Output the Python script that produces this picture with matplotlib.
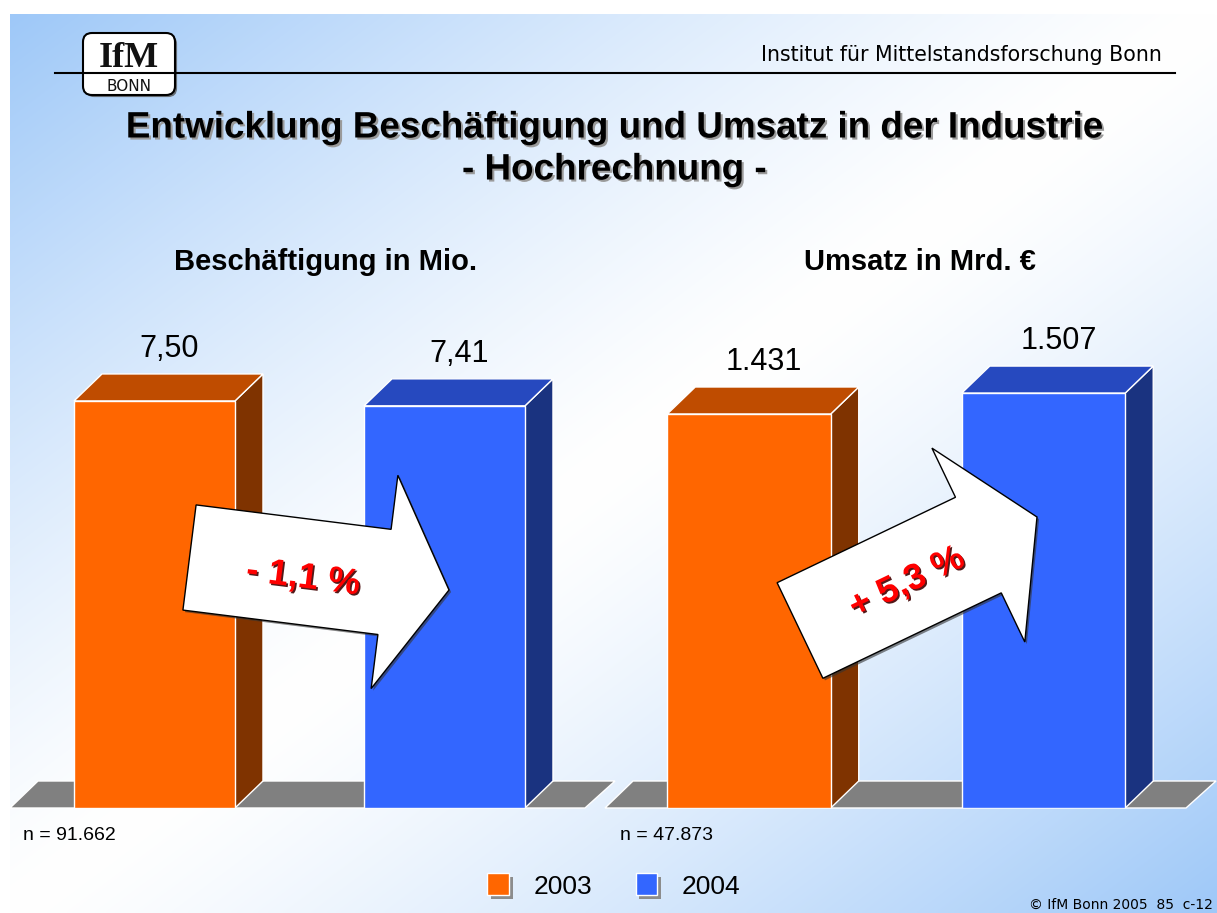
import numpy as np
import matplotlib.pyplot as plt
import matplotlib.patheffects as pe
from matplotlib.patches import Polygon, Rectangle, FancyArrow, FancyBboxPatch
from matplotlib.legend_handler import HandlerBase

# data
years = ['2003', '2004']
employment = [7.50, 7.41]      # Beschäftigung in Mio.
revenue = [1431, 1507]         # Umsatz in Mrd. €
employment_labels = ['7,50', '7,41']
revenue_labels = ['1.431', '1.507']
sample_sizes = ['n = 91.662', 'n = 47.873']
changes = ['- 1,1 %', '+ 5,3 %']
panel_titles = ['Beschäftigung in Mio.', 'Umsatz in Mrd. €']

front = ['#FF6600', '#3366FF']
side = ['#7F3300', '#1A3380']
top = ['#BF4C00', '#2649BF']

W, H = 1217, 913
fig = plt.figure(figsize=(W / 100, H / 100), dpi=100, facecolor='white')


def px_axes(x0, y0, x1, y1, **kw):
    return fig.add_axes([x0 / W, 1 - y1 / H, (x1 - x0) / W, (y1 - y0) / H], **kw)


# background gradient (blue corners, white diagonal)
bg = px_axes(0, 0, W, H, zorder=-2)
xx, yy = np.meshgrid(np.linspace(0, 1, 400), np.linspace(0, 1, 300))
k = np.abs((xx + yy) / 2 - 0.5) * 2
k = k ** 1.3
blue = np.array([158, 200, 248]) / 255
img = 1 - k[..., None] * (1 - blue)
bg.imshow(img, extent=(10, W, H, 14), aspect='auto', interpolation='bilinear')
bg.set_xlim(0, W)
bg.set_ylim(H, 0)
bg.axis('off')

# header line + logo
bg.plot([55, 1175], [73, 73], color='black', lw=1.5)
bg.add_patch(FancyBboxPatch((83, 33), 92, 62, boxstyle='round,pad=0,rounding_size=9',
                            fc='white', ec='black', lw=1.5,
                            path_effects=[pe.withSimplePatchShadow(offset=(1.5, -1.5), shadow_rgbFace='#555555', alpha=0.8)]))
bg.text(129, 67, 'IfM', ha='center', va='baseline', fontsize=26, fontweight='bold',
        family='Liberation Serif', color='#111111')
bg.text(129, 91, 'BONN', ha='center', va='baseline', fontsize=11, family='DejaVu Sans', color='#111111')


def draw_panel(x0, x1, values, labels, ytop, c0, spacing):
    ax = px_axes(x0, 300, x1, 808)
    xl = -(c0 - x0) / spacing
    ax.set_xlim(xl, xl + (x1 - x0) / spacing)
    ax.set_ylim(0, ytop)
    ax.axis('off')
    ddx = 28 / spacing
    ddy = 27 * ytop / 508
    fw = x1 - x0
    ax.add_patch(Polygon([(0, 0), ((fw - 30) / fw, 0), (1, 27 / 508), (28 / fw, 27 / 508)],
                         transform=ax.transAxes, fc='#808080', ec='white', lw=1,
                         clip_on=False, zorder=1))
    bars = ax.bar(np.arange(len(values)), values, width=0.555, color=front,
                  edgecolor='white', linewidth=1, zorder=3, label=years)
    for rect, sc, tc, lbl in zip(bars.patches, side, top, labels):
        bx, bw, bh = rect.get_x(), rect.get_width(), rect.get_height()
        ax.add_patch(Polygon([(bx + bw, 0), (bx + bw, bh), (bx + bw + ddx, bh + ddy), (bx + bw + ddx, ddy)],
                             fc=sc, ec='white', lw=1, zorder=2, clip_on=False))
        ax.add_patch(Polygon([(bx, bh), (bx + bw, bh), (bx + bw + ddx, bh + ddy), (bx + ddx, bh + ddy)],
                             fc=tc, ec='white', lw=1, zorder=2, clip_on=False))
        ax.annotate(lbl, (bx + bw / 2, bh), xytext=(15, 52), textcoords='offset pixels',
                    ha='center', va='center', fontsize=22, family='Liberation Sans')
    return bars


bars_left = draw_panel(10, 615, employment, employment_labels, 9.36, 154.5, 290)
draw_panel(605, 1216, revenue, revenue_labels, 1845, 749, 294.5)

# overlay: texts and arrows
ov = px_axes(0, 0, W, H, zorder=4)
ov.set_xlim(0, W)
ov.set_ylim(H, 0)
ov.axis('off')
ov.patch.set_alpha(0)

title_fx = [pe.withSimplePatchShadow(offset=(1.5, -1.5), shadow_rgbFace='#9a9a9a', alpha=1)]
ov.text(614, 128, 'Entwicklung Beschäftigung und Umsatz in der Industrie', ha='center', va='center',
        fontsize=26.5, fontweight='bold', family='Liberation Sans', path_effects=title_fx)
ov.text(614, 170, '- Hochrechnung -', ha='center', va='center',
        fontsize=26.5, fontweight='bold', family='Liberation Sans', path_effects=title_fx)
ov.text(1162, 55, 'Institut für Mittelstandsforschung Bonn', ha='right', va='center',
        fontsize=14.8, family='DejaVu Sans')

for (x, y), t in zip([(326, 262), (920, 262)], panel_titles):
    ov.text(x, y, t, ha='center', va='center', fontsize=21, fontweight='bold', family='Liberation Sans')

for (x, y), t in zip([(23, 835), (620, 835)], sample_sizes):
    ov.text(x, y, t, ha='left', va='center', fontsize=14, family='Liberation Sans')

arrows = [((189.5, 557.5), (259.5, 32.5), (303, 578), -7.1),
          ((800, 630.5), (237, -113.5), (907, 583), 25.6)]
for ((tx, ty), (dx, dy), (cx, cy), rot), txt in zip(arrows, changes):
    ov.add_patch(FancyArrow(tx, ty, dx, dy, width=106, head_width=215, head_length=65,
                            length_includes_head=True, fc='white', ec='black', lw=1,
                            path_effects=[pe.withSimplePatchShadow(offset=(1.5, -1.5), shadow_rgbFace='#333333', alpha=0.6)]))
    ov.text(cx, cy, txt, ha='center', va='center', rotation=rot, rotation_mode='anchor',
            fontsize=26, fontweight='bold', family='Liberation Sans', color='#FF0000',
            path_effects=[pe.withSimplePatchShadow(offset=(1.2, -1.2), shadow_rgbFace='#400000', alpha=0.9)])

ov.text(1213, 905, '© IfM Bonn 2005  85  c-12', ha='right', va='center', fontsize=10, family='DejaVu Sans')


class ShadowBox(HandlerBase):
    def create_artists(self, legend, orig_handle, xdescent, ydescent, width, height, fontsize, trans):
        s = min(width, height)
        x = -xdescent + (width - s) / 2
        y = -ydescent + (height - s) / 2
        d = 0.17 * s
        shadow = Rectangle((x + d, y - d), s, s, fc='#8c8c8c', ec='none', transform=trans)
        box = Rectangle((x, y), s, s, fc=orig_handle.get_facecolor(), ec='white', lw=1, transform=trans)
        return [shadow, box]


fig.legend(bars_left.patches, years, loc='center', bbox_to_anchor=(613.5 / W, 1 - 886 / H), ncol=2,
           frameon=False, prop={'family': 'Liberation Sans', 'size': 19},
           handlelength=0.9, handleheight=0.9, handletextpad=0.9, columnspacing=1.6,
           handler_map={Rectangle: ShadowBox()})

fig.savefig('out.png', dpi=100)
